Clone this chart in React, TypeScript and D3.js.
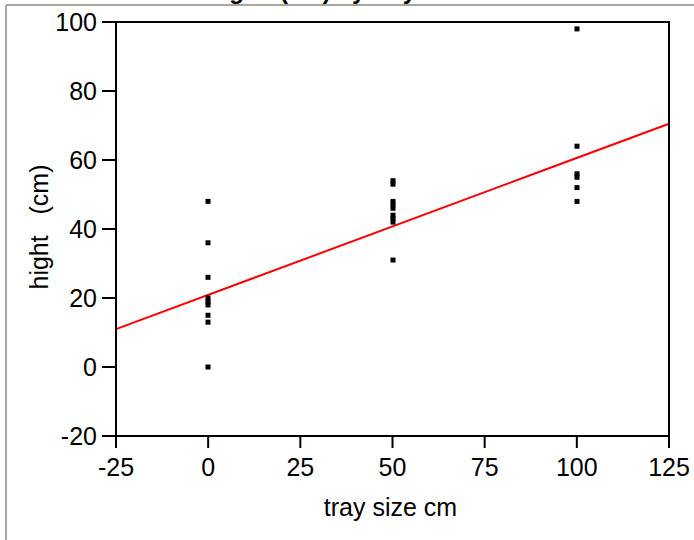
import React from "react";
import * as d3 from "d3";

const xTicks = [-25, 0, 25, 50, 75, 100, 125];
const yTicks = [-20, 0, 20, 40, 60, 80, 100];

const traySize0 = [0, 0, 0, 0, 0, 0, 0, 0, 0];
const hight0 = [48, 36, 26, 20, 19, 18, 15, 13, 0];
const traySize50 = [50, 50, 50, 50, 50, 50, 50, 50, 50];
const hight50 = [54, 53, 48, 47, 46, 44, 43, 42, 31];
const traySize100 = [100, 100, 100, 100, 100, 100];
const hight100 = [98, 64, 56, 55, 52, 48];

// fitted line
const fitIntercept = 20.9;
const fitSlope = 0.397;
const fitX = [-25, 12.5, 87.5, 125];

const titleText = "hight\u00A0\u00A0(cm) by tray size";
const xTitle = "tray size cm";
const yTitle = "hight\u00A0\u00A0\u00A0(cm)";

export default function App() {
  const W = 694, H = 540;
  const left = 116, right = 669, top = 22, bottom = 436;
  const x = d3.scaleLinear().domain([-25, 125]).range([left, right]);
  const y = d3.scaleLinear().domain([-20, 100]).range([bottom, top]);

  const pts = [
    ...traySize0.map((v, i) => [v, hight0[i]]),
    ...traySize50.map((v, i) => [v, hight50[i]]),
    ...traySize100.map((v, i) => [v, hight100[i]]),
  ];

  const line = d3
    .line<number>()
    .x((d) => x(d))
    .y((d) => y(fitIntercept + fitSlope * d));

  const font = "'Liberation Sans', Arial, Helvetica, sans-serif";
  const fs = 25;

  return (
    <svg
      width={W}
      height={H}
      style={{ position: "absolute", left: 0, top: 0, background: "#fff" }}
      fontFamily={font}
    >
      <rect x={0} y={0} width={W} height={H} fill="#fff" />
      {/* outer frame */}
      <line x1={6} y1={5} x2={W} y2={5} stroke="#aaa69c" strokeWidth={2} />
      <line x1={6} y1={5} x2={6} y2={H} stroke="#aaa69c" strokeWidth={2} />

      <text x={208} y={-1} fontSize={24} fontWeight="bold" fill="#000">
        {titleText}
      </text>

      {/* fit line */}
      <path d={line(fitX) || ""} fill="none" stroke="#ff0000" strokeWidth={2} />

      {/* points */}
      {pts.map(([px, py], i) => (
        <rect
          key={i}
          x={Math.round(x(px)) - 2.5}
          y={y(py) - 2.5}
          width={5}
          height={5}
          fill="#000"
        />
      ))}

      {/* frame */}
      <rect
        x={left}
        y={top}
        width={right - left}
        height={bottom - top}
        fill="none"
        stroke="#000"
        strokeWidth={2}
      />

      {/* y axis ticks */}
      {yTicks.map((t) => (
        <g key={"y" + t}>
          <line x1={left - 14} x2={left} y1={y(t)} y2={y(t)} stroke="#000" strokeWidth={2} />
          <text
            x={left - 19}
            y={y(t)}
            fontSize={fs}
            textAnchor="end"
            dominantBaseline="central"
            fill="#000"
          >
            {t}
          </text>
        </g>
      ))}

      {/* x axis ticks */}
      {xTicks.map((t) => (
        <g key={"x" + t}>
          <line x1={x(t)} x2={x(t)} y1={bottom} y2={bottom + 12} stroke="#000" strokeWidth={2} />
          <text x={x(t)} y={bottom + 40} fontSize={fs} textAnchor="middle" fill="#000">
            {t}
          </text>
        </g>
      ))}

      <text x={(left + right) / 2 - 2} y={516} fontSize={fs} textAnchor="middle" fill="#000">
        {xTitle}
      </text>
      <text
        transform={`translate(48, ${227}) rotate(-90)`}
        fontSize={fs}
        textAnchor="middle"
        fill="#000"
      >
        {yTitle}
      </text>
    </svg>
  );
}
